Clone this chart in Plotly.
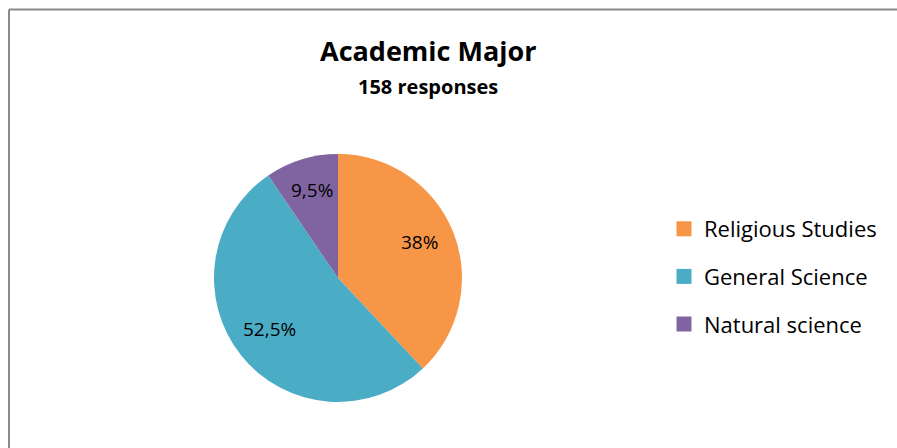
import math
import plotly.graph_objects as go

# Survey answers: academic major of respondents (percent of 158 responses)
categories = ["Religious Studies", "General Science", "Natural science"]
shares = [38, 52.5, 9.5]
colors = ["#F79646", "#4BACC6", "#8064A2"]

title_text = "Academic Major"
subtitle_text = "158 responses"

FONT = "'Open Sans', sans-serif"
W, H = 897, 448

# Pie geometry in pixels
CX, CY, R = 338, 278, 124
LABEL_R = 0.71 * R
LABEL_LIFT = 4

fig = go.Figure()

fig.add_trace(go.Pie(
    labels=categories,
    values=shares,
    marker=dict(colors=colors, line=dict(color="white", width=0)),
    sort=False,
    direction="clockwise",
    rotation=0,
    textinfo="none",
    hoverinfo="label+percent",
    showlegend=False,
    domain=dict(x=[(CX - R) / W, (CX + R) / W],
                y=[(H - CY - R) / H, (H - CY + R) / H]),
))

# Percentage labels placed at the middle angle of each slice
annotations = []
total = sum(shares)
acc = 0.0
for v in shares:
    mid = (acc + v / 2) / total * 2 * math.pi
    acc += v
    px = CX + LABEL_R * math.sin(mid)
    py = CY - LABEL_R * math.cos(mid) - LABEL_LIFT
    txt = (f"{v:g}%").replace(".", ",")
    annotations.append(dict(
        text=txt, x=px / W, y=(H - py) / H, xref="paper", yref="paper",
        xanchor="center", yanchor="middle", showarrow=False,
        font=dict(family=FONT, size=19, color="black")))

# Legend entries, one group per category so the rows can be spaced apart
for name, col in zip(categories, colors):
    fig.add_trace(go.Scatter(
        x=[None], y=[None], mode="markers", name=name,
        legendgroup=name,
        marker=dict(symbol="square", size=15, color=col),
    ))

annotations += [
    dict(text="<b>" + title_text + "</b>", x=428 / W, y=(H - 50) / H,
         xref="paper", yref="paper", xanchor="center", yanchor="middle",
         showarrow=False, font=dict(family=FONT, size=27, color="black")),
    dict(text="<b>" + subtitle_text + "</b>", x=428 / W, y=(H - 86) / H,
         xref="paper", yref="paper", xanchor="center", yanchor="middle",
         showarrow=False, font=dict(family=FONT, size=20, color="black")),
]

fig.update_layout(
    width=W, height=H,
    margin=dict(l=0, r=0, t=0, b=0),
    paper_bgcolor="white",
    plot_bgcolor="white",
    font=dict(family=FONT, color="black"),
    xaxis=dict(visible=False),
    yaxis=dict(visible=False),
    legend=dict(
        x=664 / W, y=(H - 208) / H, xanchor="left", yanchor="top",
        font=dict(family=FONT, size=22, color="black"),
        tracegroupgap=16,
        itemwidth=30,
        bgcolor="rgba(0,0,0,0)",
    ),
    annotations=annotations,
    shapes=[
        dict(type="line", xref="paper", yref="paper",
             x0=9 / W, x1=1, y0=(H - 9.5) / H, y1=(H - 9.5) / H,
             line=dict(color="#8A8A8A", width=2)),
        dict(type="line", xref="paper", yref="paper",
             x0=9 / W, x1=9 / W, y0=0, y1=(H - 9.5) / H,
             line=dict(color="#8A8A8A", width=2)),
    ],
)

fig.write_html("out.html")
